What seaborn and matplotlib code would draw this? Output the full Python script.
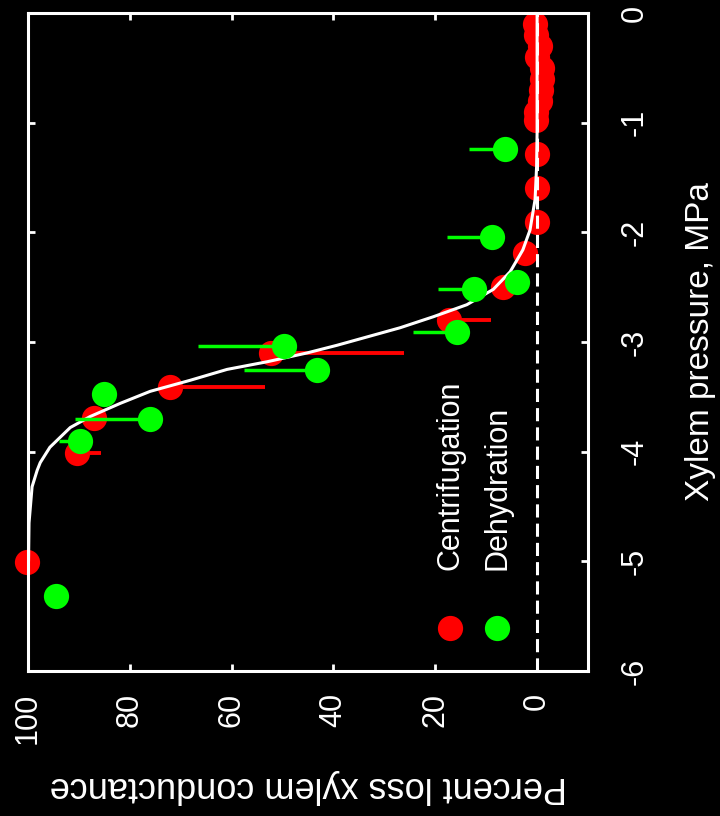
import matplotlib

matplotlib.use("Agg")
import matplotlib.pyplot as plt
import pandas as pd
import seaborn as sns

# centrifugation (red): xylem pressure (MPa), percent loss, lower error
CENT_PRESSURE = [-0.10, -0.20, -0.30, -0.40, -0.50, -0.60, -0.70, -0.80, -0.90, -0.98,
                 -1.29, -1.60, -1.91, -2.19, -2.50, -2.80, -3.10, -3.41, -3.69, -4.01, -5.01]
CENT_LOSS = [0.5, 0.2, -0.5, 0.0, -1.0, -1.0, -0.8, -0.5, 0.3, 0.2,
             0.0, 0.0, 0.0, 2.4, 6.7, 17.3, 52.2, 72.1, 87.1, 90.4, 100.2]
CENT_ERR = [0, 0, 0, 0, 0, 0, 0, 0, 0, 0,
            0, 0, 0, 0, 0, 8.3, 26.1, 18.7, 0, 4.7, 0]

# dehydration (green): xylem pressure (MPa), percent loss, upper error
DEHY_PRESSURE = [-1.24, -2.04, -2.45, -2.52, -2.91, -3.04, -3.26, -3.47, -3.70, -3.90, -5.32]
DEHY_LOSS = [6.3, 8.8, 3.9, 12.4, 15.7, 49.7, 43.2, 85.1, 76.0, 89.8, 94.5]
DEHY_ERR = [7.1, 8.9, 0, 7.0, 8.7, 16.9, 14.4, 0, 14.8, 4.1, 0]

# fitted vulnerability curve
FIT_PRESSURE = [0.0, -0.5, -1.09, -1.40, -1.70, -1.98, -2.16, -2.36, -2.52, -2.66, -2.77,
                -2.87, -3.03, -3.10, -3.18, -3.25, -3.35, -3.45, -3.56, -3.68, -3.78,
                -3.96, -4.10, -4.17, -4.32, -4.65, -5.0]
FIT_LOSS = [0.0, 0.0, 0.0, 0.1, 0.4, 1.4, 2.8, 5.3, 8.6, 13.8, 20.4,
            26.9, 39.3, 45.2, 53.0, 60.9, 68.2, 76.0, 81.9, 87.8, 91.7,
            95.7, 97.6, 98.2, 99.2, 99.8, 99.9]

LOSS_TICKS = [0, 20, 40, 60, 80, 100]
PRESSURE_TICKS = [0, -1, -2, -3, -4, -5, -6]

RED = "#ff0000"
GREEN = "#00ff00"

sns.set_theme(style="dark")
plt.rcParams.update({
    "figure.facecolor": "black",
    "axes.facecolor": "black",
    "axes.edgecolor": "white",
    "axes.labelcolor": "white",
    "text.color": "white",
    "xtick.color": "white",
    "ytick.color": "white",
    "axes.unicode_minus": False,
})
plt.rcParams["font.family"] = ["Liberation Sans", "DejaVu Sans"]

cent = pd.DataFrame({"pressure": CENT_PRESSURE, "loss": CENT_LOSS, "err": CENT_ERR})
dehy = pd.DataFrame({"pressure": DEHY_PRESSURE, "loss": DEHY_LOSS, "err": DEHY_ERR})
fit = pd.DataFrame({"pressure": FIT_PRESSURE, "loss": FIT_LOSS})

fig = plt.figure(figsize=(7.2, 8.16), dpi=100)
ax = fig.add_axes([0.0389, 0.1777, 0.7778, 0.8064])

# centrifugation points and their error bars
sns.scatterplot(data=cent, x="loss", y="pressure", color=RED, s=330, linewidth=0,
                clip_on=False, zorder=2, ax=ax)
c_err = cent[cent["err"] > 0]
ax.hlines(c_err["pressure"], c_err["loss"] - c_err["err"], c_err["loss"],
          color=RED, lw=2.8, zorder=2)

# fitted curve and zero line
sns.lineplot(data=fit, x="loss", y="pressure", sort=False, estimator=None,
             orient="y", color="white", lw=2.2, zorder=3, ax=ax)
ax.axvline(0, color="white", lw=2.2, dashes=(4.3, 2.0), zorder=3)

# dehydration points and their error bars
d_err = dehy[dehy["err"] > 0]
ax.hlines(d_err["pressure"], d_err["loss"], d_err["loss"] + d_err["err"],
          color=GREEN, lw=2.5, zorder=4)
sns.scatterplot(data=dehy, x="loss", y="pressure", color=GREEN, s=330, linewidth=0,
                clip_on=False, zorder=4, ax=ax)

ax.set_xlim(100, -10)
ax.set_ylim(-6, 0)
ax.set_xticks(LOSS_TICKS, labels=[str(t) for t in LOSS_TICKS], rotation=90, va="top")
ax.set_yticks(PRESSURE_TICKS, labels=[str(t) for t in PRESSURE_TICKS], rotation=90, va="center")
ax.tick_params(direction="in", length=5, width=2, colors="white", labelsize=22,
               top=True, bottom=True, left=True, right=True,
               labelleft=False, labelright=True)
ax.tick_params(axis="x", pad=16)
ax.tick_params(axis="y", pad=23)
ax.grid(False)
for s in ax.spines.values():
    s.set_color("white")
    s.set_linewidth(2.2)

ax.set_xlabel("Percent loss xylem conductance", rotation=180, va="center", fontsize=26)
ax.xaxis.set_label_coords(0.5, -0.176)
ax.yaxis.set_label_position("right")
ax.set_ylabel("Xylem pressure, MPa", rotation=90, va="center", ha="center", fontsize=24)
ax.yaxis.set_label_coords(1.2, 0.5)

# legend drawn by hand, rotated like the rest of the chart
for xpos, color, name in [(0.754, RED, "Centrifugation"), (0.8375, GREEN, "Dehydration")]:
    ax.scatter([xpos], [0.065], s=330, color=color, linewidth=0,
               transform=ax.transAxes, clip_on=False, zorder=5)
    ax.text(xpos, 0.1535, name, transform=ax.transAxes, rotation=90,
            ha="center", va="bottom", fontsize=22, color="white")

fig.savefig("out.png", dpi=100, facecolor="black")
